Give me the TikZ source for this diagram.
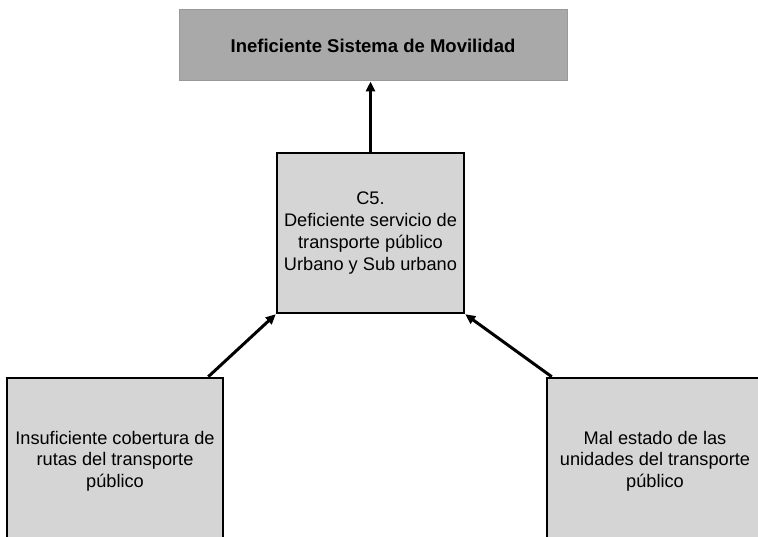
\documentclass[tikz,border=0pt]{standalone}
\usepackage{fontspec}
\setmainfont{Liberation Sans}
\usetikzlibrary{arrows.meta,calc}
\definecolor{topgray}{HTML}{A9A9A9}
\definecolor{boxgray}{HTML}{D5D5D5}
\begin{document}
\begin{tikzpicture}[x=1pt,y=-1pt,
  txt/.style={align=center,inner sep=0pt,font=\fontsize{18.2}{21.7}\selectfont},
  box/.style={txt,draw=black,line width=2.5pt,fill=boxgray},
  topbox/.style={txt,draw=gray!80,line width=1pt,fill=topgray,font=\fontsize{18.5}{21.7}\selectfont\bfseries},
  arr/.style={line width=3pt,-{Triangle[length=10pt,width=9pt]}}]
\useasboundingbox (0,0) rectangle (758,537);
\clip (0,0) rectangle (758,537);
\fill[white] (0,0) rectangle (758,537);
\node[topbox,minimum width=388pt,minimum height=71pt] (top) at (373,45.5) {Ineficiente Sistema de Movilidad};
\node[box,minimum width=187pt,minimum height=160pt] (mid) at (370.5,233) {C5.\\Deficiente servicio de\\transporte público\\Urbano y Sub urbano};
\node[box,minimum width=216pt,minimum height=166pt] (left) at (115,461) {Insuficiente cobertura de\\rutas del transporte\\público};
\node[box,minimum width=216pt,minimum height=166pt] (right) at (655,461) {Mal estado de las\\unidades del transporte\\público};
\coordinate (ls) at ($(left.north east)+(-16,0)$);
\coordinate (rs) at ($(right.north west)+(6,0)$);
\draw[arr] (mid.north) -- (mid.north |- top.south);
\draw[arr] (ls) -- (mid.south west);
\draw[arr] (rs) -- (mid.south east);
\end{tikzpicture}
\end{document}
